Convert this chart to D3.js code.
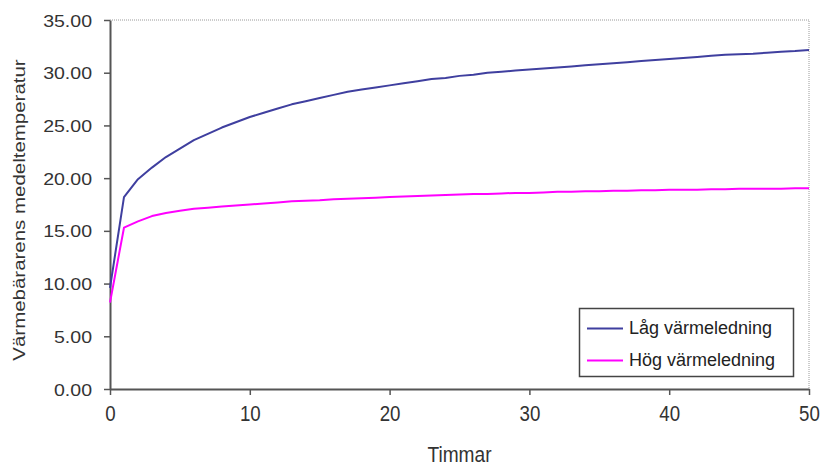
<!DOCTYPE html>
<html>
<head>
<meta charset="utf-8">
<script src="https://cdn.jsdelivr.net/npm/d3@7"></script>
<style>
  html, body { margin: 0; padding: 0; background: #fff; }
  svg { display: block; font-family: "Liberation Sans", Arial, sans-serif; }
</style>
</head>
<body>
<svg id="chart" width="822" height="470"></svg>
<script>
// ---- data ----
const hours = [0,1,2,3,4,5,6,7,8,9,10,11,12,13,14,15,16,17,18,19,20,21,22,23,24,25,26,27,28,29,30,31,32,33,34,35,36,37,38,39,40,41,42,43,44,45,46,47,48,49,50];
const lagVarmeledning = [9.6,18.2,19.9,21.0,22.0,22.8,23.6,24.2,24.8,25.3,25.8,26.2,26.6,27.0,27.3,27.6,27.9,28.2,28.4,28.6,28.8,29.0,29.2,29.4,29.5,29.7,29.8,30.0,30.1,30.2,30.3,30.4,30.5,30.6,30.7,30.8,30.9,31.0,31.1,31.2,31.3,31.4,31.5,31.6,31.7,31.75,31.8,31.9,32.0,32.05,32.15];
const hogVarmeledning = [8.2,15.3,15.9,16.4,16.7,16.9,17.1,17.2,17.3,17.4,17.5,17.6,17.7,17.8,17.85,17.9,18.0,18.05,18.1,18.15,18.2,18.25,18.3,18.35,18.4,18.45,18.5,18.5,18.55,18.6,18.6,18.65,18.7,18.7,18.75,18.75,18.8,18.8,18.85,18.85,18.9,18.9,18.9,18.95,18.95,19.0,19.0,19.0,19.0,19.05,19.05];
const seriesNames = ["Låg värmeledning", "Hög värmeledning"];
const seriesColors = ["#3f3f9f", "#ff00ff"];
const xTicks = [0,10,20,30,40,50];
const yTicks = [0,5,10,15,20,25,30,35];
const xTitle = "Timmar";
const yTitle = "Värmebärarens medeltemperatur";

// ---- layout ----
const svg = d3.select("#chart");
const L = 110, R = 809, T = 20, B = 389;
const x = d3.scaleLinear().domain([0, 50]).range([L, R]);
const y = d3.scaleLinear().domain([0, 35]).range([B, T]);

// plot-area border (top & right, dotted grey)
svg.append("path")
  .attr("d", `M${L},${T}H${R}V${B}`)
  .attr("fill", "none")
  .attr("stroke", "#9a9a9a")
  .attr("stroke-width", 1)
  .attr("stroke-dasharray", "1,1");

// y axis
const yAxis = svg.append("g")
  .attr("transform", `translate(${L},0)`)
  .call(d3.axisLeft(y).tickValues(yTicks).tickSize(6).tickSizeOuter(0).tickPadding(12)
        .tickFormat(d3.format(".2f")));
yAxis.select(".domain").attr("stroke", "#555").attr("stroke-width", 2);
yAxis.selectAll(".tick line").attr("stroke", "#555").attr("stroke-width", 1.5);
yAxis.selectAll(".tick text")
  .attr("font-size", 17)
  .attr("fill", "#333")
  .attr("x", -18 / 1.15)
  .attr("dy", "0.36em")
  .attr("transform", "scale(1.15,1)");

// x axis
const xAxis = svg.append("g")
  .attr("transform", `translate(0,${B})`)
  .call(d3.axisBottom(x).tickValues(xTicks).tickSize(6).tickSizeOuter(0));
xAxis.select(".domain").attr("stroke", "#555").attr("stroke-width", 2);
xAxis.selectAll(".tick line").attr("stroke", "#555").attr("stroke-width", 1.5);
xAxis.selectAll(".tick text")
  .attr("font-size", 22)
  .attr("fill", "#333")
  .attr("y", 32)
  .attr("dy", 0)
  .attr("transform", "scale(0.85,1)")
  .each(function() {
    // compensate for horizontal scale on tick position (text is inside translated group, x=0)
  });

// axis titles
svg.append("text")
  .attr("transform", `translate(${(L + R) / 2},462) scale(0.87,1)`)
  .attr("text-anchor", "middle")
  .attr("font-size", 22)
  .attr("fill", "#333")
  .text(xTitle);

svg.append("text")
  .attr("transform", "translate(25,210) rotate(-90) scale(1.28,1)")
  .attr("text-anchor", "middle")
  .attr("font-size", 16)
  .attr("fill", "#333")
  .text(yTitle);

// lines
const allSeries = [lagVarmeledning, hogVarmeledning];
const line = d3.line().x((d, i) => x(hours[i])).y(d => y(d));
// draw pink first? blue drawn first, pink on top at start looks mixed; keep order
allSeries.forEach((vals, k) => {
  svg.append("path")
    .datum(vals)
    .attr("fill", "none")
    .attr("stroke", seriesColors[k])
    .attr("stroke-width", 2)
    .attr("stroke-linejoin", "round")
    .attr("d", line);
});

// legend
const lg = svg.append("g");
lg.append("rect")
  .attr("x", 579.5).attr("y", 308.5).attr("width", 214).attr("height", 68)
  .attr("fill", "#fff").attr("stroke", "#444").attr("stroke-width", 1.5);
const rowsY = [328.5, 360.5];
seriesNames.forEach((name, k) => {
  lg.append("line")
    .attr("x1", 587).attr("x2", 623)
    .attr("y1", rowsY[k]).attr("y2", rowsY[k])
    .attr("stroke", seriesColors[k]).attr("stroke-width", 2);
  lg.append("text")
    .attr("x", 629).attr("y", rowsY[k] + 5.5)
    .attr("font-size", 18)
    .attr("fill", "#222")
    .text(name);
});
</script>
</body>
</html>
